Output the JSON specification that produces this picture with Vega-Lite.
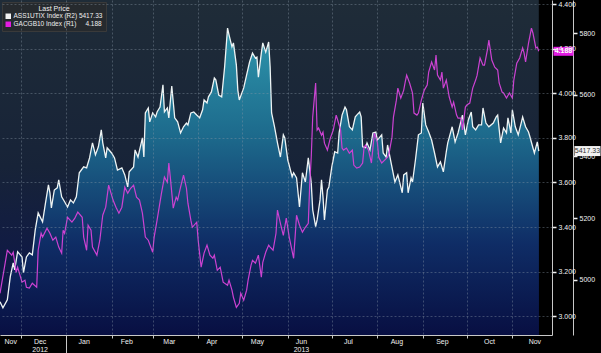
{
"$schema": "https://vega.github.io/schema/vega-lite/v6.json",
"width": 552, "height": 335,
"autosize": {"type": "none"},
"padding": {"left": 0, "top": 0, "right": 49, "bottom": 18},
"background": "#000000",
"config": {"font": "Liberation Sans", "view": {"stroke": null}},
"datasets": {
"w": [
{"d":"2012-11-17","v":4929},{"d":"2012-11-19","v":4909},{"d":"2012-11-22","v":4935},{"d":"2012-11-24","v":5010},{"d":"2012-11-26","v":5055},{"d":"2012-11-27","v":5032},{"d":"2012-11-29","v":5091},{"d":"2012-12-02","v":5074},{"d":"2012-12-03","v":5023},{"d":"2012-12-05","v":5074},{"d":"2012-12-07","v":5087},{"d":"2012-12-09","v":5081},{"d":"2012-12-11","v":5162},{"d":"2012-12-13","v":5217},{"d":"2012-12-16","v":5188},{"d":"2012-12-18","v":5249},{"d":"2012-12-20","v":5308},{"d":"2012-12-21","v":5282},{"d":"2012-12-22","v":5233},{"d":"2012-12-24","v":5291},{"d":"2012-12-26","v":5298},{"d":"2012-12-27","v":5324},{"d":"2012-12-29","v":5269},{"d":"2012-12-31","v":5253},
{"d":"2013-01-02","v":5236},{"d":"2013-01-04","v":5259},{"d":"2013-01-06","v":5249},{"d":"2013-01-08","v":5269},{"d":"2013-01-10","v":5347},{"d":"2013-01-13","v":5366},{"d":"2013-01-15","v":5363},{"d":"2013-01-17","v":5395},{"d":"2013-01-19","v":5444},{"d":"2013-01-21","v":5405},{"d":"2013-01-23","v":5431},{"d":"2013-01-25","v":5486},{"d":"2013-01-26","v":5444},{"d":"2013-01-28","v":5395},{"d":"2013-01-29","v":5428},
{"d":"2013-02-01","v":5411},{"d":"2013-02-03","v":5395},{"d":"2013-02-05","v":5356},{"d":"2013-02-08","v":5363},{"d":"2013-02-10","v":5340},{"d":"2013-02-12","v":5301},{"d":"2013-02-13","v":5350},{"d":"2013-02-16","v":5366},{"d":"2013-02-17","v":5421},{"d":"2013-02-19","v":5398},{"d":"2013-02-22","v":5460},{"d":"2013-02-23","v":5398},{"d":"2013-02-24","v":5541},{"d":"2013-02-26","v":5557},{"d":"2013-02-27","v":5512},
{"d":"2013-03-01","v":5541},{"d":"2013-03-03","v":5528},{"d":"2013-03-04","v":5544},{"d":"2013-03-06","v":5560},{"d":"2013-03-08","v":5632},{"d":"2013-03-09","v":5544},{"d":"2013-03-11","v":5557},{"d":"2013-03-12","v":5525},{"d":"2013-03-14","v":5628},{"d":"2013-03-16","v":5525},{"d":"2013-03-18","v":5512},{"d":"2013-03-20","v":5476},{"d":"2013-03-22","v":5496},{"d":"2013-03-24","v":5508},{"d":"2013-03-25","v":5502},{"d":"2013-03-27","v":5541},{"d":"2013-03-29","v":5544},{"d":"2013-03-31","v":5534},
{"d":"2013-04-02","v":5525},{"d":"2013-04-04","v":5551},{"d":"2013-04-05","v":5583},{"d":"2013-04-07","v":5573},{"d":"2013-04-08","v":5593},{"d":"2013-04-10","v":5609},{"d":"2013-04-12","v":5654},{"d":"2013-04-13","v":5648},{"d":"2013-04-15","v":5599},{"d":"2013-04-17","v":5593},{"d":"2013-04-18","v":5641},{"d":"2013-04-19","v":5690},{"d":"2013-04-21","v":5816},{"d":"2013-04-22","v":5794},{"d":"2013-04-24","v":5755},{"d":"2013-04-25","v":5768},{"d":"2013-04-27","v":5696},{"d":"2013-04-28","v":5615},{"d":"2013-04-29","v":5583},
{"d":"2013-05-02","v":5622},{"d":"2013-05-04","v":5664},{"d":"2013-05-06","v":5706},{"d":"2013-05-08","v":5735},{"d":"2013-05-10","v":5719},{"d":"2013-05-11","v":5722},{"d":"2013-05-12","v":5657},{"d":"2013-05-14","v":5735},{"d":"2013-05-15","v":5768},{"d":"2013-05-17","v":5738},{"d":"2013-05-19","v":5771},{"d":"2013-05-20","v":5690},{"d":"2013-05-21","v":5541},{"d":"2013-05-23","v":5496},{"d":"2013-05-25","v":5444},{"d":"2013-05-27","v":5398},{"d":"2013-05-29","v":5470},{"d":"2013-05-30","v":5460},
{"d":"2013-06-01","v":5389},{"d":"2013-06-04","v":5334},{"d":"2013-06-05","v":5347},{"d":"2013-06-07","v":5330},{"d":"2013-06-09","v":5236},{"d":"2013-06-11","v":5347},{"d":"2013-06-13","v":5317},{"d":"2013-06-15","v":5395},{"d":"2013-06-17","v":5314},{"d":"2013-06-18","v":5227},{"d":"2013-06-20","v":5172},{"d":"2013-06-21","v":5194},{"d":"2013-06-23","v":5259},{"d":"2013-06-24","v":5324},{"d":"2013-06-25","v":5269},{"d":"2013-06-26","v":5194},{"d":"2013-06-28","v":5291},{"d":"2013-06-29","v":5301},
{"d":"2013-07-01","v":5366},{"d":"2013-07-03","v":5415},{"d":"2013-07-05","v":5411},{"d":"2013-07-06","v":5476},{"d":"2013-07-08","v":5534},{"d":"2013-07-10","v":5560},{"d":"2013-07-11","v":5551},{"d":"2013-07-13","v":5496},{"d":"2013-07-15","v":5486},{"d":"2013-07-17","v":5528},{"d":"2013-07-18","v":5534},{"d":"2013-07-20","v":5544},{"d":"2013-07-21","v":5528},{"d":"2013-07-22","v":5431},{"d":"2013-07-24","v":5428},{"d":"2013-07-25","v":5444},{"d":"2013-07-27","v":5421},{"d":"2013-07-29","v":5476},{"d":"2013-07-31","v":5479},
{"d":"2013-08-01","v":5453},{"d":"2013-08-04","v":5470},{"d":"2013-08-05","v":5411},{"d":"2013-08-07","v":5398},{"d":"2013-08-08","v":5437},{"d":"2013-08-10","v":5389},{"d":"2013-08-13","v":5317},{"d":"2013-08-15","v":5340},{"d":"2013-08-18","v":5282},{"d":"2013-08-19","v":5340},{"d":"2013-08-21","v":5347},{"d":"2013-08-22","v":5282},{"d":"2013-08-24","v":5330},{"d":"2013-08-25","v":5317},{"d":"2013-08-27","v":5389},{"d":"2013-08-29","v":5470},{"d":"2013-08-31","v":5476},
{"d":"2013-09-01","v":5573},{"d":"2013-09-03","v":5502},{"d":"2013-09-05","v":5479},{"d":"2013-09-07","v":5453},{"d":"2013-09-09","v":5411},{"d":"2013-09-11","v":5366},{"d":"2013-09-13","v":5382},{"d":"2013-09-15","v":5350},{"d":"2013-09-17","v":5415},{"d":"2013-09-18","v":5444},{"d":"2013-09-21","v":5496},{"d":"2013-09-23","v":5447},{"d":"2013-09-25","v":5476},{"d":"2013-09-28","v":5534},{"d":"2013-09-30","v":5470},
{"d":"2013-10-02","v":5518},{"d":"2013-10-04","v":5544},{"d":"2013-10-05","v":5496},{"d":"2013-10-07","v":5486},{"d":"2013-10-09","v":5502},{"d":"2013-10-11","v":5502},{"d":"2013-10-12","v":5557},{"d":"2013-10-14","v":5508},{"d":"2013-10-16","v":5496},{"d":"2013-10-19","v":5508},{"d":"2013-10-21","v":5528},{"d":"2013-10-22","v":5534},{"d":"2013-10-24","v":5444},{"d":"2013-10-26","v":5492},{"d":"2013-10-28","v":5476},{"d":"2013-10-29","v":5525},{"d":"2013-10-31","v":5476},
{"d":"2013-11-01","v":5551},{"d":"2013-11-03","v":5496},{"d":"2013-11-05","v":5470},{"d":"2013-11-07","v":5508},{"d":"2013-11-08","v":5528},{"d":"2013-11-10","v":5496},{"d":"2013-11-12","v":5479},{"d":"2013-11-13","v":5463},{"d":"2013-11-15","v":5428},{"d":"2013-11-16","v":5411},{"d":"2013-11-18","v":5447},{"d":"2013-11-19","v":5417.33}
],
"m": [
{"d":"2012-11-17","v":3.103},{"d":"2012-11-22","v":3.296},{"d":"2012-11-25","v":3.274},{"d":"2012-11-26","v":3.287},{"d":"2012-11-28","v":3.197},{"d":"2012-11-29","v":3.220},{"d":"2012-12-02","v":3.153},{"d":"2012-12-04","v":3.162},{"d":"2012-12-05","v":3.130},{"d":"2012-12-07","v":3.126},{"d":"2012-12-09","v":3.148},{"d":"2012-12-12","v":3.130},{"d":"2012-12-13","v":3.296},{"d":"2012-12-15","v":3.372},{"d":"2012-12-16","v":3.355},{"d":"2012-12-19","v":3.395},{"d":"2012-12-21","v":3.372},{"d":"2012-12-23","v":3.341},{"d":"2012-12-25","v":3.355},{"d":"2012-12-27","v":3.310},{"d":"2012-12-29","v":3.283},{"d":"2012-12-30","v":3.386},{"d":"2012-12-31","v":3.372},
{"d":"2013-01-02","v":3.444},{"d":"2013-01-05","v":3.422},{"d":"2013-01-07","v":3.440},{"d":"2013-01-09","v":3.467},{"d":"2013-01-12","v":3.444},{"d":"2013-01-13","v":3.355},{"d":"2013-01-15","v":3.296},{"d":"2013-01-16","v":3.408},{"d":"2013-01-18","v":3.386},{"d":"2013-01-19","v":3.310},{"d":"2013-01-22","v":3.274},{"d":"2013-01-24","v":3.341},{"d":"2013-01-26","v":3.453},{"d":"2013-01-28","v":3.489},{"d":"2013-01-30","v":3.588},
{"d":"2013-02-01","v":3.543},{"d":"2013-02-02","v":3.521},{"d":"2013-02-04","v":3.489},{"d":"2013-02-06","v":3.462},{"d":"2013-02-08","v":3.489},{"d":"2013-02-10","v":3.579},{"d":"2013-02-12","v":3.552},{"d":"2013-02-14","v":3.574},{"d":"2013-02-16","v":3.588},{"d":"2013-02-18","v":3.534},{"d":"2013-02-20","v":3.521},{"d":"2013-02-22","v":3.462},{"d":"2013-02-24","v":3.355},{"d":"2013-02-26","v":3.341},
{"d":"2013-03-01","v":3.287},{"d":"2013-03-02","v":3.355},{"d":"2013-03-04","v":3.431},{"d":"2013-03-07","v":3.552},{"d":"2013-03-08","v":3.588},{"d":"2013-03-09","v":3.624},{"d":"2013-03-11","v":3.601},{"d":"2013-03-12","v":3.687},{"d":"2013-03-13","v":3.624},{"d":"2013-03-15","v":3.485},{"d":"2013-03-17","v":3.534},{"d":"2013-03-18","v":3.521},{"d":"2013-03-20","v":3.579},{"d":"2013-03-22","v":3.633},{"d":"2013-03-24","v":3.574},{"d":"2013-03-25","v":3.507},{"d":"2013-03-27","v":3.431},{"d":"2013-03-28","v":3.399},{"d":"2013-03-31","v":3.422},
{"d":"2013-04-01","v":3.341},{"d":"2013-04-03","v":3.220},{"d":"2013-04-05","v":3.283},{"d":"2013-04-07","v":3.319},{"d":"2013-04-09","v":3.274},{"d":"2013-04-11","v":3.260},{"d":"2013-04-12","v":3.274},{"d":"2013-04-14","v":3.206},{"d":"2013-04-16","v":3.220},{"d":"2013-04-18","v":3.153},{"d":"2013-04-21","v":3.139},{"d":"2013-04-22","v":3.162},{"d":"2013-04-24","v":3.117},{"d":"2013-04-25","v":3.085},{"d":"2013-04-27","v":3.040},{"d":"2013-04-29","v":3.058},{"d":"2013-04-30","v":3.103},
{"d":"2013-05-02","v":3.072},{"d":"2013-05-04","v":3.117},{"d":"2013-05-05","v":3.162},{"d":"2013-05-07","v":3.229},{"d":"2013-05-08","v":3.251},{"d":"2013-05-10","v":3.238},{"d":"2013-05-12","v":3.274},{"d":"2013-05-14","v":3.175},{"d":"2013-05-15","v":3.242},{"d":"2013-05-17","v":3.287},{"d":"2013-05-19","v":3.319},{"d":"2013-05-20","v":3.310},{"d":"2013-05-22","v":3.296},{"d":"2013-05-24","v":3.372},{"d":"2013-05-25","v":3.476},{"d":"2013-05-27","v":3.417},{"d":"2013-05-29","v":3.363},{"d":"2013-05-31","v":3.440},
{"d":"2013-06-02","v":3.355},{"d":"2013-06-05","v":3.260},{"d":"2013-06-06","v":3.355},{"d":"2013-06-07","v":3.453},{"d":"2013-06-09","v":3.408},{"d":"2013-06-11","v":3.377},{"d":"2013-06-13","v":3.399},{"d":"2013-06-15","v":3.417},{"d":"2013-06-16","v":3.597},{"d":"2013-06-17","v":3.713},{"d":"2013-06-18","v":3.893},{"d":"2013-06-20","v":4.046},{"d":"2013-06-21","v":3.835},{"d":"2013-06-22","v":3.844},{"d":"2013-06-24","v":3.812},{"d":"2013-06-25","v":3.826},{"d":"2013-06-26","v":3.776},{"d":"2013-06-28","v":3.745},{"d":"2013-06-30","v":3.799},
{"d":"2013-07-02","v":3.835},{"d":"2013-07-04","v":3.902},{"d":"2013-07-05","v":3.880},{"d":"2013-07-07","v":3.835},{"d":"2013-07-08","v":3.754},{"d":"2013-07-09","v":3.745},{"d":"2013-07-11","v":3.754},{"d":"2013-07-13","v":3.731},{"d":"2013-07-15","v":3.745},{"d":"2013-07-16","v":3.678},{"d":"2013-07-18","v":3.664},{"d":"2013-07-20","v":3.669},{"d":"2013-07-22","v":3.687},{"d":"2013-07-23","v":3.758},{"d":"2013-07-24","v":3.767},{"d":"2013-07-26","v":3.745},{"d":"2013-07-28","v":3.687},{"d":"2013-07-30","v":3.821},
{"d":"2013-08-01","v":3.781},{"d":"2013-08-02","v":3.713},{"d":"2013-08-04","v":3.687},{"d":"2013-08-06","v":3.700},{"d":"2013-08-08","v":3.713},{"d":"2013-08-09","v":3.731},{"d":"2013-08-11","v":3.803},{"d":"2013-08-12","v":3.893},{"d":"2013-08-14","v":3.969},{"d":"2013-08-15","v":4.023},{"d":"2013-08-17","v":3.978},{"d":"2013-08-19","v":4.014},{"d":"2013-08-20","v":4.050},{"d":"2013-08-21","v":4.081},{"d":"2013-08-23","v":4.046},{"d":"2013-08-25","v":4.001},{"d":"2013-08-26","v":3.911},{"d":"2013-08-28","v":3.902},{"d":"2013-08-29","v":3.911},{"d":"2013-08-31","v":3.969},
{"d":"2013-09-02","v":4.014},{"d":"2013-09-04","v":4.037},{"d":"2013-09-05","v":4.095},{"d":"2013-09-07","v":4.140},{"d":"2013-09-09","v":4.104},{"d":"2013-09-10","v":4.171},{"d":"2013-09-11","v":4.081},{"d":"2013-09-13","v":4.059},{"d":"2013-09-14","v":4.095},{"d":"2013-09-15","v":4.023},{"d":"2013-09-17","v":4.059},{"d":"2013-09-19","v":3.983},{"d":"2013-09-21","v":3.938},{"d":"2013-09-22","v":3.960},{"d":"2013-09-24","v":3.902},{"d":"2013-09-25","v":3.888},{"d":"2013-09-27","v":3.888},{"d":"2013-09-28","v":3.835},{"d":"2013-09-30","v":3.938},
{"d":"2013-10-01","v":3.947},{"d":"2013-10-03","v":3.956},{"d":"2013-10-05","v":4.023},{"d":"2013-10-07","v":4.059},{"d":"2013-10-08","v":4.081},{"d":"2013-10-10","v":4.158},{"d":"2013-10-12","v":4.126},{"d":"2013-10-13","v":4.126},{"d":"2013-10-15","v":4.194},{"d":"2013-10-16","v":4.238},{"d":"2013-10-18","v":4.149},{"d":"2013-10-20","v":4.117},{"d":"2013-10-22","v":4.104},{"d":"2013-10-23","v":4.046},{"d":"2013-10-25","v":4.005},{"d":"2013-10-26","v":4.001},{"d":"2013-10-28","v":3.978},{"d":"2013-10-30","v":4.001},
{"d":"2013-11-01","v":3.978},{"d":"2013-11-02","v":4.059},{"d":"2013-11-04","v":4.135},{"d":"2013-11-06","v":4.158},{"d":"2013-11-08","v":4.203},{"d":"2013-11-09","v":4.180},{"d":"2013-11-10","v":4.140},{"d":"2013-11-12","v":4.225},{"d":"2013-11-14","v":4.292},{"d":"2013-11-15","v":4.270},{"d":"2013-11-17","v":4.203},{"d":"2013-11-18","v":4.207},{"d":"2013-11-19","v":4.188}
]
},
"layer": [
{
"data": {"name": "w"},
"layer": [
{
"mark": {"type": "area", "fill": {"gradient": "linear", "x1": 0, "y1": 0, "x2": 0, "y2": 1, "stops": [{"offset": 0, "color": "#1f2c38"}, {"offset": 0.5, "color": "#172338"}, {"offset": 0.8, "color": "#0f1946"}, {"offset": 1, "color": "#0a1244"}]}},
"encoding": {
"x": {"field": "d", "type": "temporal", "scale": {"type": "utc", "domain": [{"year": 2012, "month": 11, "date": 17, "utc": true}, {"year": 2013, "month": 11, "date": 28, "utc": true}]},
"axis": {"orient": "bottom", "values": [{"year": 2012, "month": 12, "date": 1, "utc": true}, {"year": 2013, "month": 1, "date": 1, "utc": true}, {"year": 2013, "month": 2, "date": 1, "utc": true}, {"year": 2013, "month": 3, "date": 1, "utc": true}, {"year": 2013, "month": 4, "date": 1, "utc": true}, {"year": 2013, "month": 5, "date": 1, "utc": true}, {"year": 2013, "month": 6, "date": 1, "utc": true}, {"year": 2013, "month": 7, "date": 1, "utc": true}, {"year": 2013, "month": 8, "date": 1, "utc": true}, {"year": 2013, "month": 9, "date": 1, "utc": true}, {"year": 2013, "month": 10, "date": 1, "utc": true}, {"year": 2013, "month": 11, "date": 1, "utc": true}],
"labels": false, "title": null, "grid": true, "gridColor": "#8a98a8", "gridOpacity": 0.4, "gridDash": [2, 2], "tickColor": "#c8c8c8", "tickSize": {"condition": {"test": "utcmonth(datum.value) == 0", "value": 18}, "value": 3}, "domainColor": "#c8c8c8", "zindex": 1}},
"y": {"datum": 5907, "type": "quantitative", "scale": {"domain": [4821, 5907], "nice": false, "zero": false}},
"y2": {"datum": 4821}
}
},
{
"mark": {"type": "area", "fill": {"gradient": "linear", "x1": 0, "y1": 0, "x2": 0, "y2": 1, "stops": [{"offset": 0, "color": "#2e97ad"}, {"offset": 0.35, "color": "#1d6a8c"}, {"offset": 0.7, "color": "#0f2d66"}, {"offset": 1, "color": "#080f42"}]}},
"encoding": {
"x": {"field": "d", "type": "temporal"},
"y": {"field": "v", "type": "quantitative"},
"y2": {"datum": 4821}
}
},
{
"mark": {"type": "line", "color": "#eef4f4", "strokeWidth": 1.3},
"encoding": {
"x": {"field": "d", "type": "temporal"},
"y": {"field": "v", "type": "quantitative",
"axis": {"orient": "right", "offset": 21, "title": null, "grid": false, "values": [5000, 5200, 5400, 5600, 5800], "format": "d", "labelOverlap": false, "labelFontSize": 7, "labelColor": "#f0f0f0", "labelPadding": 2, "tickColor": "#f0f0f0", "tickWidth": 1.5, "tickSize": 4, "domainColor": "#c8c8c8"}}
}
},
{
"data": {"values": [{"d": "2013-11-19", "v": 5417.33}]},
"mark": {"type": "point", "shape": "M-1,-0.385L1,-0.385L1,0.385L-1,0.385Z", "size": 676, "filled": true, "opacity": 1, "strokeWidth": 0, "xOffset": 48.7},
"encoding": {
"x": {"field": "d", "type": "temporal"},
"y": {"field": "v", "type": "quantitative"},
"fill": {"datum": "ASS1UTIX Index", "type": "nominal", "scale": {"domain": ["ASS1UTIX Index", "GACGB10 Index"], "range": ["#f2f2f2", "#e31ce3"]},
"legend": {"title": "Last Price", "orient": "top-left", "offset": 2, "symbolType": "square", "symbolSize": 30, "symbolStrokeWidth": 0, "fillColor": "#262a2e", "strokeColor": "#3a3a3a", "padding": 3, "titleAnchor": "middle", "titleColor": "#f0f0f0", "titleFontSize": 7, "titleFontWeight": "normal", "titlePadding": 1, "labelColor": "#f0f0f0", "labelFontSize": 6.5, "labelOffset": 2, "rowPadding": 1,
"labelExpr": "datum.label == 'ASS1UTIX Index' ? 'ASS1UTIX Index (R2) 5417.33' : 'GACGB10 Index (R1)\u00a0\u00a0\u00a0\u00a0 4.188'"}}
}
},
{
"data": {"values": [{"d": "2013-11-19", "v": 5417.33}]},
"mark": {"type": "text", "dx": 48.7, "align": "center", "baseline": "middle", "fontSize": 7, "color": "#333333"},
"encoding": {
"x": {"field": "d", "type": "temporal"},
"y": {"field": "v", "type": "quantitative"},
"text": {"field": "v", "type": "quantitative", "format": ".2f"}
}
}
]
},
{
"data": {"name": "m"},
"layer": [
{
"mark": {"type": "line", "color": "#cc42d2", "strokeWidth": 1.2},
"encoding": {
"x": {"field": "d", "type": "temporal", "scale": {"type": "utc", "domain": [{"year": 2012, "month": 11, "date": 17, "utc": true}, {"year": 2013, "month": 11, "date": 28, "utc": true}]},
"axis": {"orient": "bottom", "values": [{"year": 2012, "month": 11, "date": 24, "utc": true}, {"year": 2012, "month": 12, "date": 14, "utc": true}, {"year": 2013, "month": 1, "date": 13, "utc": true}, {"year": 2013, "month": 2, "date": 11, "utc": true}, {"year": 2013, "month": 3, "date": 12, "utc": true}, {"year": 2013, "month": 4, "date": 10, "utc": true}, {"year": 2013, "month": 5, "date": 11, "utc": true}, {"year": 2013, "month": 6, "date": 10, "utc": true}, {"year": 2013, "month": 7, "date": 12, "utc": true}, {"year": 2013, "month": 8, "date": 14, "utc": true}, {"year": 2013, "month": 9, "date": 14, "utc": true}, {"year": 2013, "month": 10, "date": 16, "utc": true}, {"year": 2013, "month": 11, "date": 16, "utc": true}],
"labelExpr": "utcmonth(datum.value) == 11 && utcyear(datum.value) == 2012 ? ['Dec', '2012'] : (utcmonth(datum.value) == 5 ? ['Jun', '2013'] : utcFormat(datum.value, '%b'))",
"ticks": false, "domain": false, "grid": false, "title": null, "labelFontSize": 7, "labelColor": "#f0f0f0", "labelPadding": 2, "labelLineHeight": 8, "labelFlush": false, "labelOverlap": false}},
"y": {"field": "v", "type": "quantitative", "scale": {"domain": [2.916, 4.418], "nice": false, "zero": false},
"axis": {"orient": "right", "offset": 0, "title": null, "values": [3.0, 3.1, 3.2, 3.3, 3.4, 3.5, 3.6, 3.7, 3.8, 3.9, 4.0, 4.1, 4.2, 4.3, 4.4], "labelExpr": "round(datum.value * 10) % 2 == 0 ? format(datum.value, '.3f') : ''", "labelOverlap": false, "labelFontSize": 7, "labelColor": "#f0f0f0", "labelPadding": 2, "tickColor": "#f0f0f0", "tickWidth": 1.5, "tickSize": {"condition": {"test": "round(datum.value * 10) % 2 == 0", "value": 4}, "value": 2}, "domainColor": "#c8c8c8", "grid": true, "gridColor": "#8a98a8", "gridDash": [2, 2], "gridOpacity": {"condition": {"test": "round(datum.value * 10) % 2 != 0", "value": 0}, "value": 0.4}, "zindex": 1}}
}
},
{
"data": {"values": [{"d": "2013-11-19", "v": 4.188}]},
"mark": {"type": "point", "shape": "M-1,-0.45L1,-0.45L1,0.45L-1,0.45Z", "size": 400, "filled": true, "opacity": 1, "strokeWidth": 0, "xOffset": 24.7},
"encoding": {
"x": {"field": "d", "type": "temporal"},
"y": {"field": "v", "type": "quantitative"},
"fill": {"datum": "GACGB10 Index", "type": "nominal"}
}
},
{
"data": {"values": [{"d": "2013-11-19", "v": 4.188}]},
"mark": {"type": "text", "dx": 24.7, "align": "center", "baseline": "middle", "fontSize": 7, "fontWeight": "bold", "color": "#ffffff"},
"encoding": {
"x": {"field": "d", "type": "temporal"},
"y": {"field": "v", "type": "quantitative"},
"text": {"field": "v", "type": "quantitative", "format": ".3f"}
}
}
]
}
],
"resolve": {"scale": {"y": "independent"}, "axis": {"x": "independent"}}
}
